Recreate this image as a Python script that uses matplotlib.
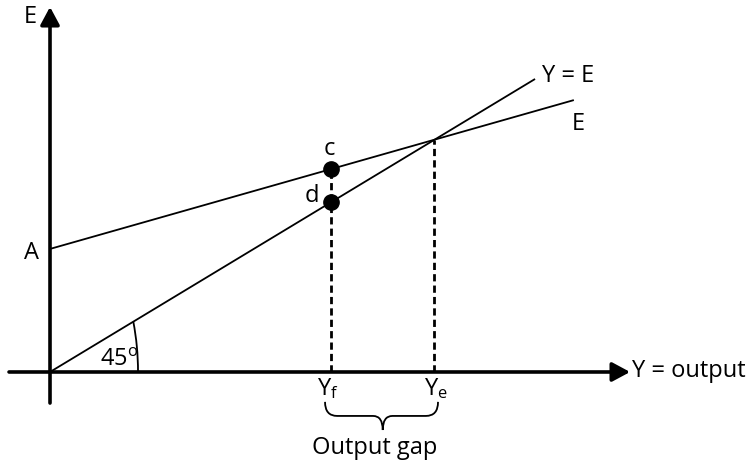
import matplotlib
matplotlib.use('Agg')
import matplotlib.pyplot as plt
from matplotlib.patches import Arc, PathPatch
from matplotlib.path import Path

plt.rcParams['font.family'] = ['Open Sans', 'DejaVu Sans']
plt.rcParams['mathtext.fontset'] = 'custom'
plt.rcParams['mathtext.rm'] = 'Open Sans'
plt.rcParams['mathtext.it'] = 'Open Sans'

# values
line45_x = [0, 100]
line45_y = [0, 100]
e_line_x = [0, 108]
e_line_y = [42, 92.8]
y_full = 58
y_eq = 79.2
point_c = [58, 69.3]
point_d = [58, 58]
dash_x = [y_full, y_eq]
dash_top = [69.3, 79.2]

FS = 17

fig = plt.figure(figsize=(7.47, 4.61), dpi=100)
ax = fig.add_axes([0, 0, 1, 1])
ax.set_xlim(-10.31, 143.7)
ax.set_ylim(-30.38, 126.96)
ax.axis('off')

# axes with arrow heads
arrow = dict(arrowstyle='-|>,head_length=0.54,head_width=0.29', mutation_scale=20,
             lw=2.6, color='black', shrinkA=0, shrinkB=0)
ax.annotate('', xy=(0, 124.6), xytext=(0, -10.6), arrowprops=arrow, zorder=5)
ax.annotate('', xy=(119.6, 0), xytext=(-8.45, 0), arrowprops=arrow, zorder=5)

# lines
ax.plot(line45_x, line45_y, color='black', lw=1.3, solid_capstyle='butt')
ax.plot(e_line_x, e_line_y, color='black', lw=1.3, solid_capstyle='butt')

for x, top in zip(dash_x, dash_top):
    ax.plot([x, x], [0, top], color='black', lw=2.0, linestyle=(0, (2.6, 1.5)))

ax.plot([point_c[0], point_d[0]], [point_c[1], point_d[1]], 'o', color='black',
        markersize=11, zorder=6)

# 45 degree arc
ax.add_patch(Arc((0, 0), 2 * 88 / 4.85, 2 * 156 / 2.93, theta1=0, theta2=45,
                 color='black', lw=1.3))

# brace under the output gap
x1, x2 = y_full - 1.3, y_eq + 0.8
xm = (y_full + y_eq) / 2
y0, ym, yt = -10.2, -15.0, -19.8
verts = [(x1, y0), (x1, ym), (x1 + 2.5, ym), (xm - 2.0, ym), (xm, ym), (xm, yt),
         (xm, ym), (xm + 2.0, ym), (x2 - 2.5, ym), (x2, ym), (x2, y0)]
codes = [Path.MOVETO, Path.CURVE3, Path.CURVE3, Path.LINETO, Path.CURVE3, Path.CURVE3,
         Path.CURVE3, Path.CURVE3, Path.LINETO, Path.CURVE3, Path.CURVE3]
ax.add_patch(PathPatch(Path(verts, codes), fill=False, lw=1.3, color='black'))

# labels
ax.text(-4.1, 121.2, 'E', fontsize=FS, ha='center', va='center')
ax.text(-3.9, 40.6, 'A', fontsize=FS, ha='center', va='center')
ax.text(57.5, 76.0, 'c', fontsize=FS, ha='center', va='center')
ax.text(54.0, 60.0, 'd', fontsize=FS, ha='center', va='center')
ax.text(10.3, 2.2, r'45$^{\mathrm{o}}$', fontsize=FS, ha='left', va='baseline')
ax.text(101.4, 101, 'Y = E', fontsize=FS, ha='left', va='center')
ax.text(109, 84.6, 'E', fontsize=FS, ha='center', va='center')
ax.text(119.9, 0.3, 'Y = output', fontsize=FS, ha='left', va='center')
ax.text(y_full - 0.7, -1.5, r'Y$_{\mathrm{f}}$', fontsize=FS, ha='center', va='top')
ax.text(y_eq + 0.4, -1.5, r'Y$_{\mathrm{e}}$', fontsize=FS, ha='center', va='top')
ax.text(67, -26, 'Output gap', fontsize=FS, ha='center', va='center')

fig.savefig('out.png', dpi=100)
